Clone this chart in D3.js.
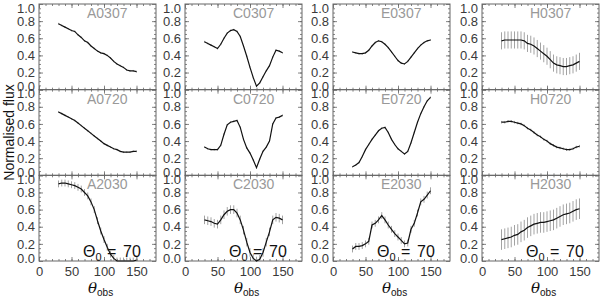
<!DOCTYPE html>
<html>
<head>
<meta charset="utf-8">
<script src="https://cdn.jsdelivr.net/npm/d3@7"></script>
<style>
  body { margin: 0; background: #fff; }
  svg { display: block; font-family: "Liberation Sans", Arial, sans-serif; }
</style>
</head>
<body>
<div id="chart"></div>
<script>
// models (columns) and runs (rows)
const models = ["A", "C", "E", "H"];
const runs = ["0307", "0720", "2030"];
const angles = [30, 35, 40, 45, 50, 55, 60, 65, 70, 75, 80, 85, 90, 95, 100, 105, 110, 115, 120, 125, 130, 135, 140, 145, 150];
const xTicks = [0, 50, 100, 150];
const yTicks = [0, 0.2, 0.4, 0.6, 0.8, 1.0];

// normalised flux
const fluxA0307 = [0.77, 0.75, 0.73, 0.71, 0.69, 0.68, 0.64, 0.61, 0.57, 0.55, 0.51, 0.48, 0.45, 0.43, 0.42, 0.40, 0.37, 0.33, 0.30, 0.28, 0.26, 0.23, 0.22, 0.22, 0.21];
const fluxA0720 = [0.74, 0.72, 0.70, 0.68, 0.66, 0.64, 0.61, 0.58, 0.55, 0.52, 0.49, 0.46, 0.43, 0.40, 0.37, 0.35, 0.33, 0.31, 0.30, 0.28, 0.27, 0.27, 0.27, 0.28, 0.28];
const fluxA2030 = [0.90, 0.91, 0.91, 0.90, 0.89, 0.88, 0.86, 0.84, 0.80, 0.76, 0.69, 0.60, 0.47, 0.35, 0.25, 0.16, 0.08, 0.03, 0.00, 0.00, 0.00, 0.00, 0.00, 0.00, 0.01];
const fluxC0307 = [0.56, 0.54, 0.52, 0.50, 0.48, 0.53, 0.60, 0.66, 0.69, 0.70, 0.68, 0.62, 0.51, 0.39, 0.26, 0.14, 0.04, 0.08, 0.15, 0.22, 0.28, 0.38, 0.46, 0.45, 0.43];
const fluxC0720 = [0.33, 0.31, 0.30, 0.30, 0.30, 0.35, 0.48, 0.59, 0.62, 0.63, 0.64, 0.56, 0.42, 0.32, 0.26, 0.18, 0.09, 0.19, 0.28, 0.33, 0.40, 0.60, 0.67, 0.68, 0.70];
const fluxC2030 = [0.48, 0.47, 0.46, 0.44, 0.43, 0.48, 0.54, 0.58, 0.60, 0.60, 0.56, 0.48, 0.36, 0.22, 0.10, 0.03, 0.00, 0.02, 0.10, 0.22, 0.34, 0.48, 0.51, 0.50, 0.48];
const fluxE0307 = [0.44, 0.43, 0.42, 0.42, 0.43, 0.46, 0.51, 0.55, 0.57, 0.56, 0.53, 0.49, 0.44, 0.39, 0.34, 0.31, 0.30, 0.33, 0.38, 0.43, 0.48, 0.52, 0.55, 0.57, 0.58];
const fluxE0720 = [0.10, 0.12, 0.15, 0.22, 0.30, 0.36, 0.42, 0.47, 0.52, 0.55, 0.56, 0.50, 0.42, 0.36, 0.31, 0.28, 0.25, 0.28, 0.38, 0.50, 0.62, 0.72, 0.80, 0.87, 0.91];
const fluxE2030 = [0.14, 0.17, 0.17, 0.18, 0.20, 0.23, 0.42, 0.44, 0.48, 0.53, 0.48, 0.42, 0.37, 0.32, 0.28, 0.24, 0.20, 0.21, 0.37, 0.44, 0.56, 0.69, 0.72, 0.77, 0.82];
const fluxH0307 = [0.57, 0.58, 0.58, 0.58, 0.58, 0.58, 0.58, 0.57, 0.54, 0.53, 0.51, 0.48, 0.45, 0.42, 0.39, 0.35, 0.31, 0.29, 0.28, 0.27, 0.27, 0.28, 0.29, 0.31, 0.33];
const fluxH0720 = [0.62, 0.62, 0.63, 0.63, 0.62, 0.61, 0.60, 0.58, 0.55, 0.53, 0.50, 0.47, 0.45, 0.42, 0.40, 0.37, 0.35, 0.33, 0.32, 0.31, 0.30, 0.30, 0.31, 0.33, 0.34];
const fluxH2030 = [0.25, 0.26, 0.27, 0.28, 0.30, 0.31, 0.34, 0.36, 0.39, 0.41, 0.43, 0.44, 0.45, 0.45, 0.46, 0.47, 0.48, 0.50, 0.52, 0.54, 0.55, 0.56, 0.58, 0.60, 0.61];

// half length of error bars, one per panel [model][run]
const errA = [0.01, 0.01, 0.04];
const errC = [0.01, 0.01, 0.05];
const errE = [0.01, 0.01, 0.04];
const errH = [0.10, 0.015, 0.12];

const fluxes = {
  A0307: fluxA0307, A0720: fluxA0720, A2030: fluxA2030,
  C0307: fluxC0307, C0720: fluxC0720, C2030: fluxC2030,
  E0307: fluxE0307, E0720: fluxE0720, E2030: fluxE2030,
  H0307: fluxH0307, H0720: fluxH0720, H2030: fluxH2030
};
const errors = { A: errA, C: errC, E: errE, H: errH };

const W = 600, H = 298;
const colLeft = [39, 185, 333, 482];
const panelW = 117;
const top0 = 4, bottom0 = 261;
const rowH = (bottom0 - top0) / 3;

const svg = d3.select("#chart").append("svg")
  .attr("width", W).attr("height", H);

const x = d3.scaleLinear().domain([0, 180]).range([0, panelW]);
const y = d3.scaleLinear().domain([0, 1]).range([rowH, 0]).clamp(true);

const frameCol = "#666";
const labelCol = "#3a3a3a";

models.forEach((m, ci) => {
  runs.forEach((r, ri) => {
    const key = m + r;
    const vals = fluxes[key];
    const err = errors[m][ri];
    const g = svg.append("g")
      .attr("transform", `translate(${colLeft[ci]},${top0 + ri * rowH})`);

    // ticks, pointing inward
    const yAx = g.append("g")
      .call(d3.axisLeft(y).tickValues(yTicks).tickSize(-4).tickPadding(4).tickFormat(d3.format(".1f")));
    yAx.selectAll(".tick text")
      .attr("transform", d => d === 0 ? "translate(0,-3)" : d === 1 ? "translate(0,4)" : null);
    g.append("g")
      .call(d3.axisLeft(y).tickValues(d3.range(0.05, 1, 0.05)).tickSize(-2).tickFormat(""));
    g.append("g").attr("transform", `translate(${panelW},0)`)
      .call(d3.axisRight(y).tickValues(yTicks).tickSize(-4).tickFormat(""));
    g.append("g").attr("transform", `translate(${panelW},0)`)
      .call(d3.axisRight(y).tickValues(d3.range(0.05, 1, 0.05)).tickSize(-2).tickFormat(""));

    g.append("g").attr("transform", `translate(0,${rowH})`)
      .call(d3.axisBottom(x).tickValues(xTicks).tickSize(-4).tickPadding(6)
        .tickFormat(ri === 2 ? d3.format("d") : ""));
    g.append("g").attr("transform", `translate(0,${rowH})`)
      .call(d3.axisBottom(x).tickValues(d3.range(10, 180, 10)).tickSize(-2).tickFormat(""));
    g.append("g")
      .call(d3.axisTop(x).tickValues(xTicks).tickSize(-4).tickFormat(""));
    g.append("g")
      .call(d3.axisTop(x).tickValues(d3.range(10, 180, 10)).tickSize(-2).tickFormat(""));

    g.selectAll(".domain").remove();
    g.selectAll(".tick line").attr("stroke", frameCol).attr("stroke-width", 0.8);
    g.selectAll(".tick text").attr("fill", labelCol).style("font-size", "13px")
      .style("font-family", "'Liberation Sans', Arial, sans-serif");

    g.append("rect")
      .attr("x", 0).attr("y", 0).attr("width", panelW).attr("height", rowH)
      .attr("fill", "none").attr("stroke", frameCol).attr("stroke-width", 1);

    // panel name
    g.append("text")
      .attr("x", 48).attr("y", 14)
      .attr("fill", "#999")
      .style("font-size", "14px")
      .text(key);

    // error bars
    g.selectAll(".err")
      .data(angles.map((a, i) => ({ a: a, v: vals[i] })))
      .enter().append("line")
      .attr("x1", d => x(d.a)).attr("x2", d => x(d.a))
      .attr("y1", d => y(d.v - err)).attr("y2", d => y(d.v + err))
      .attr("stroke", "#999").attr("stroke-width", 0.9);

    // flux curve
    const line = d3.line().x((d, i) => x(angles[i])).y(d => y(d));
    g.append("path")
      .datum(vals)
      .attr("d", line)
      .attr("fill", "none").attr("stroke", "#111").attr("stroke-width", 1.2);

    if (ri === 2) {
      // Theta_0 = 70 label
      const t = g.append("text")
        .attr("y", rowH - 4)
        .attr("fill", "#111")
        .style("font-size", "16px");
      t.append("tspan").attr("x", 44).text("Θ");
      t.append("tspan").attr("dy", 4).style("font-size", "11px").text("0");
      t.append("tspan").attr("x", 68).attr("dy", -4).text("=");
      t.append("tspan").attr("x", 84).text("70");

      // x axis title
      const xt = g.append("text")
        .attr("x", 49).attr("y", H - top0 - 2 * rowH - 5)
        .attr("fill", "#111")
        .style("font-size", "16px");
      xt.append("tspan").style("font-style", "italic").style("font-family", "'DejaVu Serif', serif")
        .style("font-size", "15px").text("θ");
      xt.append("tspan").attr("dy", 3).style("font-size", "10px").text("obs");
    }
  });
});

// y axis title
svg.append("text")
  .attr("transform", `translate(14,${(top0 + bottom0) / 2}) rotate(-90)`)
  .attr("text-anchor", "middle")
  .attr("fill", "#111")
  .style("font-size", "14px")
  .text("Normalised flux");
</script>
</body>
</html>
